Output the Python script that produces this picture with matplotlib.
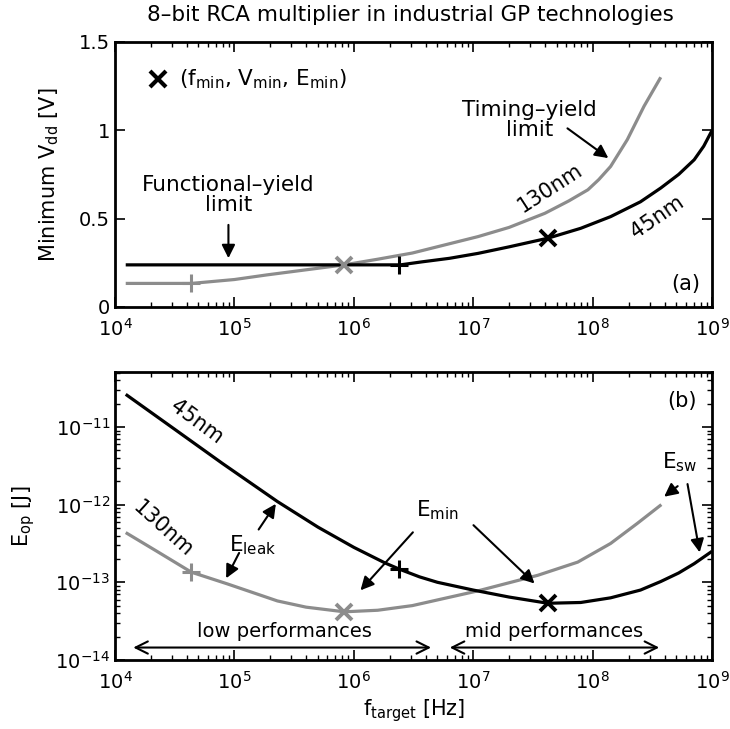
import numpy as np
import matplotlib
matplotlib.use('Agg')
import matplotlib.pyplot as plt

plt.rcParams['font.family'] = ['DejaVu Sans']
plt.rcParams['mathtext.fontset'] = 'dejavusans'

# ---------------- data ----------------
# panel (a): minimum Vdd [V] vs target frequency (log10 Hz)
logf_45_a = [4.09, 6.39, 6.57, 6.80, 7.04, 7.30, 7.625, 7.90, 8.15, 8.40, 8.57, 8.72, 8.85, 8.93, 9.00]
vdd_45 = [0.238, 0.238, 0.255, 0.275, 0.303, 0.34, 0.389, 0.445, 0.511, 0.595, 0.673, 0.75, 0.833, 0.91, 1.00]
logf_130_a = [4.09, 4.64, 5.00, 5.27, 5.60, 5.92, 6.20, 6.49, 7.04, 7.30, 7.60, 7.80, 7.96, 8.05, 8.15, 8.29, 8.43, 8.57]
vdd_130 = [0.133, 0.133, 0.155, 0.181, 0.21, 0.238, 0.27, 0.305, 0.398, 0.45, 0.53, 0.60, 0.663, 0.72, 0.795, 0.947, 1.136, 1.30]

# panel (b): energy per operation (log10 J)
logf_45_b = [4.09, 4.50, 4.90, 5.36, 5.70, 6.00, 6.26, 6.38, 6.55, 6.70, 7.00, 7.30, 7.625, 7.90, 8.15, 8.40, 8.57, 8.72, 8.85, 9.00]
loge_45 = [-10.58, -11.03, -11.47, -11.96, -12.29, -12.55, -12.75, -12.83, -12.93, -13.00, -13.10, -13.19, -13.27,
           -13.26, -13.20, -13.10, -12.99, -12.88, -12.76, -12.60]
logf_130_b = [4.09, 4.35, 4.64, 4.94, 5.36, 5.60, 5.92, 6.20, 6.49, 6.75, 7.04, 7.54, 7.875, 8.15, 8.375, 8.575]
loge_130 = [-12.36, -12.60, -12.87, -13.02, -13.24, -13.32, -13.38, -13.36, -13.30, -13.21, -13.11, -12.91, -12.74,
            -12.50, -12.24, -12.00]

# special points: (+) functional-yield corner, (x) minimum-energy point
plus_logf = {'45': 6.38, '130': 4.64}
xmin_logf = {'45': 7.625, '130': 5.92}
plus_v = {'45': 0.238, '130': 0.133}
xmin_v = {'45': 0.389, '130': 0.238}
plus_loge = {'45': -12.83, '130': -12.87}
xmin_loge = {'45': -13.27, '130': -13.38}

GRAY = '#8c8c8c'
BLACK = 'black'
LW = 2.3

def p10(a):
    return np.power(10.0, np.asarray(a, dtype=float))

fig = plt.figure(figsize=(7.30, 7.29), dpi=100)
ax1 = fig.add_axes([0.1575, 0.579, 0.818, 0.3635])
ax2 = fig.add_axes([0.1575, 0.0947, 0.818, 0.395])

for ax in (ax1, ax2):
    ax.set_xscale('log')
    ax.set_xlim(1e4, 1e9)
    ax.tick_params(which='both', direction='in', top=True, right=True, labelsize=14)
    ax.tick_params(axis='x', which='both', pad=8)
    ax.tick_params(which='major', length=7, width=1.2)
    ax.tick_params(which='minor', length=3.5, width=1.0)
    for s in ax.spines.values():
        s.set_linewidth(2)

MS_X, MEW_X, MS_P, MEW_P = 11, 2.8, 13, 2.2

# ---------------- panel (a) ----------------
ax1.plot(p10(logf_130_a), vdd_130, color=GRAY, lw=LW, solid_capstyle='butt')
ax1.plot(p10(logf_45_a), vdd_45, color=BLACK, lw=LW, solid_capstyle='butt')
ax1.plot(p10(plus_logf['130']), plus_v['130'], marker='+', color=GRAY, ms=MS_P, mew=MEW_P)
ax1.plot(p10(xmin_logf['130']), xmin_v['130'], marker='x', color=GRAY, ms=MS_X, mew=MEW_X)
ax1.plot(p10(plus_logf['45']), plus_v['45'], marker='+', color=BLACK, ms=MS_P, mew=MEW_P)
ax1.plot(p10(xmin_logf['45']), xmin_v['45'], marker='x', color=BLACK, ms=MS_X, mew=MEW_X)

ax1.set_ylim(0, 1.5)
ax1.set_yticks([0, 0.5, 1, 1.5])
ax1.set_yticklabels(['0', '0.5', '1', '1.5'])
ax1.set_ylabel(r'Minimum V$_{\mathrm{dd}}$ [V]', fontsize=15, labelpad=13)

ax1.plot(p10(4.36), 1.29, marker='x', color='k', ms=11, mew=3)
ax1.text(p10(4.54), 1.29, r'(f$_{\mathrm{min}}$, V$_{\mathrm{min}}$, E$_{\mathrm{min}}$)',
         fontsize=15.5, va='center', ha='left')

ax1.text(p10(4.95), 0.635, 'Functional\u2013yield\nlimit', fontsize=15.5, ha='center', va='center',
         linespacing=1.0)
ax1.annotate('', xy=(p10(4.95), 0.26), xytext=(p10(4.95), 0.48),
             arrowprops=dict(arrowstyle='-|>', color='k', lw=1.5, mutation_scale=20))
ax1.text(p10(7.47), 1.06, 'Timing\u2013yield\nlimit', fontsize=15.5, ha='center', va='center',
         linespacing=1.0)
ax1.annotate('', xy=(p10(8.15), 0.833), xytext=(p10(7.77), 1.02),
             arrowprops=dict(arrowstyle='-|>', color='k', lw=1.5, mutation_scale=20))
ax1.text(p10(7.64), 0.674, '130nm', fontsize=15, rotation=33, ha='center', va='center')
ax1.text(p10(8.54), 0.511, '45nm', fontsize=15, rotation=34.5, ha='center', va='center')
ax1.text(p10(8.78), 0.13, '(a)', fontsize=15, ha='center', va='center')

# ---------------- panel (b) ----------------
ax2.set_yscale('log')
ax2.plot(p10(logf_130_b), p10(loge_130), color=GRAY, lw=LW, solid_capstyle='butt')
ax2.plot(p10(logf_45_b), p10(loge_45), color=BLACK, lw=LW, solid_capstyle='butt')
ax2.plot(p10(plus_logf['130']), p10(plus_loge['130']), marker='+', color=GRAY, ms=MS_P, mew=MEW_P)
ax2.plot(p10(xmin_logf['130']), p10(xmin_loge['130']), marker='x', color=GRAY, ms=MS_X, mew=MEW_X)
ax2.plot(p10(plus_logf['45']), p10(plus_loge['45']), marker='+', color=BLACK, ms=MS_P, mew=MEW_P)
ax2.plot(p10(xmin_logf['45']), p10(xmin_loge['45']), marker='x', color=BLACK, ms=MS_X, mew=MEW_X)

ax2.set_ylim(1e-14, 5.1e-11)
ax2.set_yticks([1e-14, 1e-13, 1e-12, 1e-11])
ax2.set_ylabel(r'E$_{\mathrm{op}}$ [J]', fontsize=15, labelpad=13)
ax2.set_xlabel(r'f$_{\mathrm{target}}$ [Hz]', fontsize=15, labelpad=3)

ax2.text(p10(4.68), p10(-10.93), '45nm', fontsize=15, rotation=-36.5, ha='center', va='center')
ax2.text(p10(4.40), p10(-12.32), '130nm', fontsize=15, rotation=-42, ha='center', va='center')
ax2.text(p10(8.75), p10(-10.66), '(b)', fontsize=15, ha='center', va='center')

arrow_kw = dict(arrowstyle='-|>', color='k', lw=1.5, mutation_scale=20)
ax2.text(p10(5.15), p10(-12.52), r'E$_{\mathrm{leak}}$', fontsize=15.5, ha='center', va='center')
ax2.annotate('', xy=(p10(5.36), p10(-11.96)), xytext=(p10(5.19), p10(-12.35)), arrowprops=arrow_kw)
ax2.annotate('', xy=(p10(4.92), p10(-12.98)), xytext=(p10(5.05), p10(-12.59)), arrowprops=arrow_kw)

ax2.text(p10(6.70), p10(-12.07), r'E$_{\mathrm{min}}$', fontsize=15.5, ha='center', va='center')
ax2.annotate('', xy=(p10(6.04), p10(-13.13)), xytext=(p10(6.51), p10(-12.33)), arrowprops=arrow_kw)
ax2.annotate('', xy=(p10(7.53), p10(-13.04)), xytext=(p10(6.985), p10(-12.24)), arrowprops=arrow_kw)

ax2.text(p10(8.73), p10(-11.46), r'E$_{\mathrm{sw}}$', fontsize=15.5, ha='center', va='center')
ax2.annotate('', xy=(p10(8.58), p10(-11.92)), xytext=(p10(8.73), p10(-11.74)), arrowprops=arrow_kw)
ax2.annotate('', xy=(p10(8.90), p10(-12.65)), xytext=(p10(8.79), p10(-11.70)), arrowprops=arrow_kw)

dbl_kw = dict(arrowstyle='<->', color='k', lw=1.5, mutation_scale=22)
ax2.annotate('', xy=(p10(6.67), p10(-13.84)), xytext=(p10(4.13), p10(-13.84)), arrowprops=dbl_kw)
ax2.annotate('', xy=(p10(8.58), p10(-13.84)), xytext=(p10(6.78), p10(-13.84)), arrowprops=dbl_kw)
ax2.text(p10(5.42), p10(-13.63), 'low performances', fontsize=14, ha='center', va='center')
ax2.text(p10(7.68), p10(-13.63), 'mid performances', fontsize=14, ha='center', va='center')

fig.text(0.5616, 1 - 15 / 729, '8\u2013bit RCA multiplier in industrial GP technologies',
         fontsize=15.5, ha='center', va='center')

fig.savefig('out.png', dpi=100)
